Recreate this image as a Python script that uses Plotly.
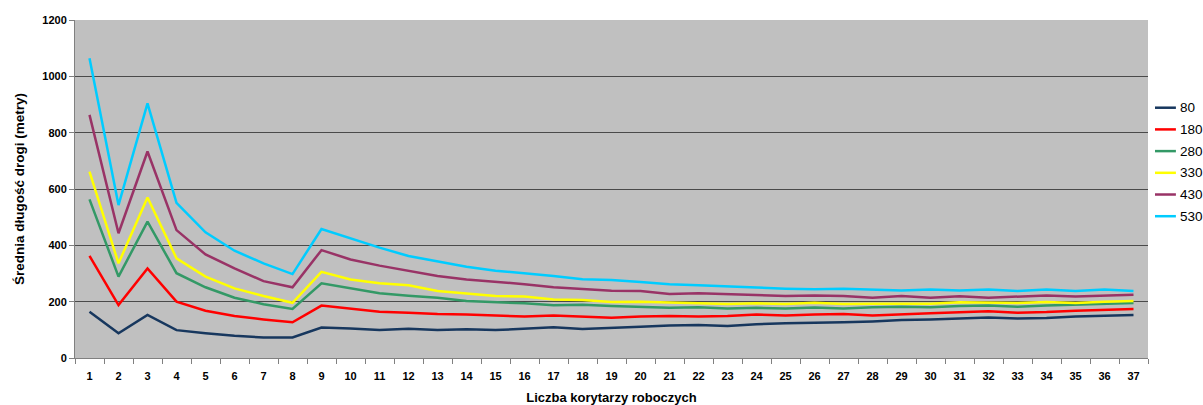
import plotly.graph_objects as go

# Number of working corridors (category axis)
corridors = [str(i) for i in range(1, 38)]

# Average route length (metres) per corridor count, one series per setting
s80 = [164, 88, 153, 99, 88, 79, 73, 73, 108, 105, 99,
       104, 99, 102, 99, 103, 109, 103, 108, 111, 115, 117, 114, 120, 123,
       124, 127, 130, 135, 137, 141, 144, 140, 142, 147, 150, 153]
s180 = [363, 188, 318, 200, 168, 149, 137, 127, 186, 176, 164,
        161, 156, 154, 151, 147, 151, 147, 143, 147, 149, 147, 149, 154, 151,
        154, 156, 151, 156, 159, 162, 166, 161, 163, 168, 172, 174]
s280 = [563, 289, 484, 301, 251, 214, 191, 174, 265, 247, 230,
        221, 214, 202, 198, 194, 187, 189, 185, 181, 178, 180, 176, 178, 176,
        179, 176, 180, 182, 180, 185, 186, 182, 186, 189, 193, 195]
s330 = [662, 336, 570, 354, 289, 247, 220, 196, 306, 279, 265,
        258, 238, 230, 220, 218, 208, 206, 199, 200, 198, 196, 192, 194, 192,
        196, 192, 193, 193, 193, 198, 196, 195, 199, 195, 200, 202]
s430 = [863, 443, 733, 454, 368, 318, 273, 251, 383, 350, 328,
        310, 291, 279, 271, 262, 251, 246, 239, 238, 227, 230, 227, 222, 220,
        222, 220, 214, 220, 214, 219, 214, 218, 222, 218, 222, 225]
s530 = [1064, 543, 904, 551, 446, 381, 336, 298, 458, 424, 392,
        362, 342, 324, 310, 301, 291, 280, 277, 270, 262, 258, 253, 250, 246,
        244, 246, 243, 240, 243, 240, 243, 238, 243, 238, 243, 238]

series_names = ["80", "180", "280", "330", "430", "530"]
series_values = [s80, s180, s280, s330, s430, s530]
series_colors = ["#17375E", "#FF0000", "#339966", "#FFFF00", "#993366", "#00CCFF"]

FONT = "Liberation Sans, Arial, sans-serif"

fig = go.Figure()
for name, vals, col in zip(series_names, series_values, series_colors):
    fig.add_trace(go.Scatter(
        x=corridors, y=vals, name=name, mode="lines",
        line=dict(color=col, width=2.5), showlegend=False,
    ))

# Legend drawn beside the plot: short line sample plus label per series
shapes = []
annotations = []
leg_top = 0.7405
leg_step = 0.0642
for i, (name, col) in enumerate(zip(series_names, series_colors)):
    yy = leg_top - i * leg_step
    shapes.append(dict(type="line", xref="paper", yref="paper",
                       x0=1.0065, x1=1.0260, y0=yy, y1=yy,
                       line=dict(color=col, width=2.5)))
    annotations.append(dict(xref="paper", yref="paper", x=1.0280, y=yy,
                            text=name, showarrow=False, xanchor="left",
                            yanchor="middle",
                            font=dict(family=FONT, size=13.5, color="#000000")))

fig.update_layout(
    width=1203, height=405,
    margin=dict(l=75, r=55, t=20, b=47, autoexpand=False),
    paper_bgcolor="#FFFFFF",
    plot_bgcolor="#C0C0C0",
    font=dict(family=FONT, color="#000000"),
    shapes=shapes,
    annotations=annotations,
    xaxis=dict(
        type="category",
        range=[-0.5, len(corridors) - 0.5],
        tickson="boundaries",
        ticks="outside", ticklen=5, tickcolor="#808080",
        ticklabelstandoff=8,
        showline=True, linecolor="#808080", linewidth=1,
        showgrid=False, zeroline=False,
        tickfont=dict(family=FONT, size=11, weight="bold"),
        title=dict(text="Liczba korytarzy roboczych",
                   font=dict(family=FONT, size=13, weight="bold"),
                   standoff=11),
    ),
    yaxis=dict(
        range=[0, 1200], dtick=200,
        ticks="outside", ticklen=5, tickcolor="#808080",
        showline=True, linecolor="#808080", linewidth=1,
        showgrid=True, gridcolor="#4A4A4A", gridwidth=1,
        zeroline=False,
        tickfont=dict(family=FONT, size=11, weight="bold"),
        title=dict(text="Średnia długość drogi (metry)",
                   font=dict(family=FONT, size=13.5, weight="bold"),
                   standoff=14),
    ),
)

fig.write_html("out.html")
